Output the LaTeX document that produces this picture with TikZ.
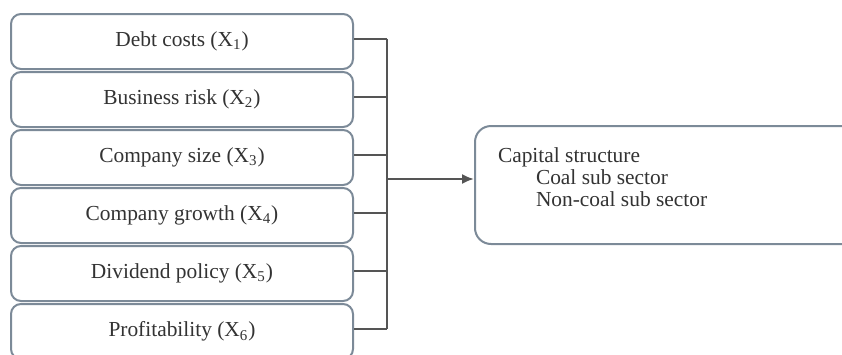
\documentclass[tikz,border=0pt]{standalone}
\usepackage{fontspec}
\setmainfont{Liberation Serif}
\usetikzlibrary{arrows,arrows.meta,shapes,positioning}
\definecolor{boxline}{HTML}{7C8A98}
\definecolor{linkgray}{HTML}{555555}

\begin{document}
\begin{tikzpicture}[
        x=0.5pt, y=0.5pt,
        node distance=0.5pt and 0.5pt,
        every node/.style={font=\fontsize{10.7}{11}\selectfont, text=black!80},
        factor/.style={draw=boxline, line width=1pt, rounded corners=5pt, fill=white, minimum width=171pt, minimum height=27.5pt, inner sep=0pt},
        result/.style={draw=boxline, line width=1pt, rounded corners=8pt, fill=white, inner xsep=11.5pt, inner ysep=11pt},
        link/.style={draw=linkgray, line width=1pt}
    ]
    \clip (0,0) rectangle (842,-354);

    % Nodes
      \node (b1)[factor, anchor=north west] at (10,-13) {Debt costs (X\textsubscript{1})};
      \node (b2)[factor, below=of b1] {Business risk (X\textsubscript{2})};
      \node (b3)[factor, below=of b2] {Company size (X\textsubscript{3})};
      \node (b4)[factor, below=of b3] {Company growth (X\textsubscript{4})};
      \node (b5)[factor, below=of b4] {Dividend policy (X\textsubscript{5})};
      \node (b6)[factor, below=of b5] {Profitability (X\textsubscript{6})};

      \node (cap)[result, anchor=north west] at (474,-125) {\parbox[t][37pt][t]{171pt}{Capital structure\\\hspace*{19pt}Coal sub sector\\\hspace*{19pt}Non-coal sub sector}};

      \coordinate (bus) at (387,0);

    \draw[link] ([yshift=1.5pt]b1.east) -- ([yshift=1.5pt]b1.east -| bus);
    \draw[link] ([yshift=1.5pt]b2.east) -- ([yshift=1.5pt]b2.east -| bus);
    \draw[link] ([yshift=1.5pt]b3.east) -- ([yshift=1.5pt]b3.east -| bus);
    \draw[link] ([yshift=1.5pt]b4.east) -- ([yshift=1.5pt]b4.east -| bus);
    \draw[link] ([yshift=1.5pt]b5.east) -- ([yshift=1.5pt]b5.east -| bus);
    \draw[link] ([yshift=1.5pt]b6.east) -- ([yshift=1.5pt]b6.east -| bus);
    \draw[link] ([yshift=1.5pt]b1.east -| bus) -- ([yshift=1.5pt]b6.east -| bus);

    \draw[link, -{Latex[length=6pt,width=5pt]}] ([yshift=3pt]bus |- cap.west) -- ([yshift=3pt]cap.west);

\end{tikzpicture}
\end{document}
